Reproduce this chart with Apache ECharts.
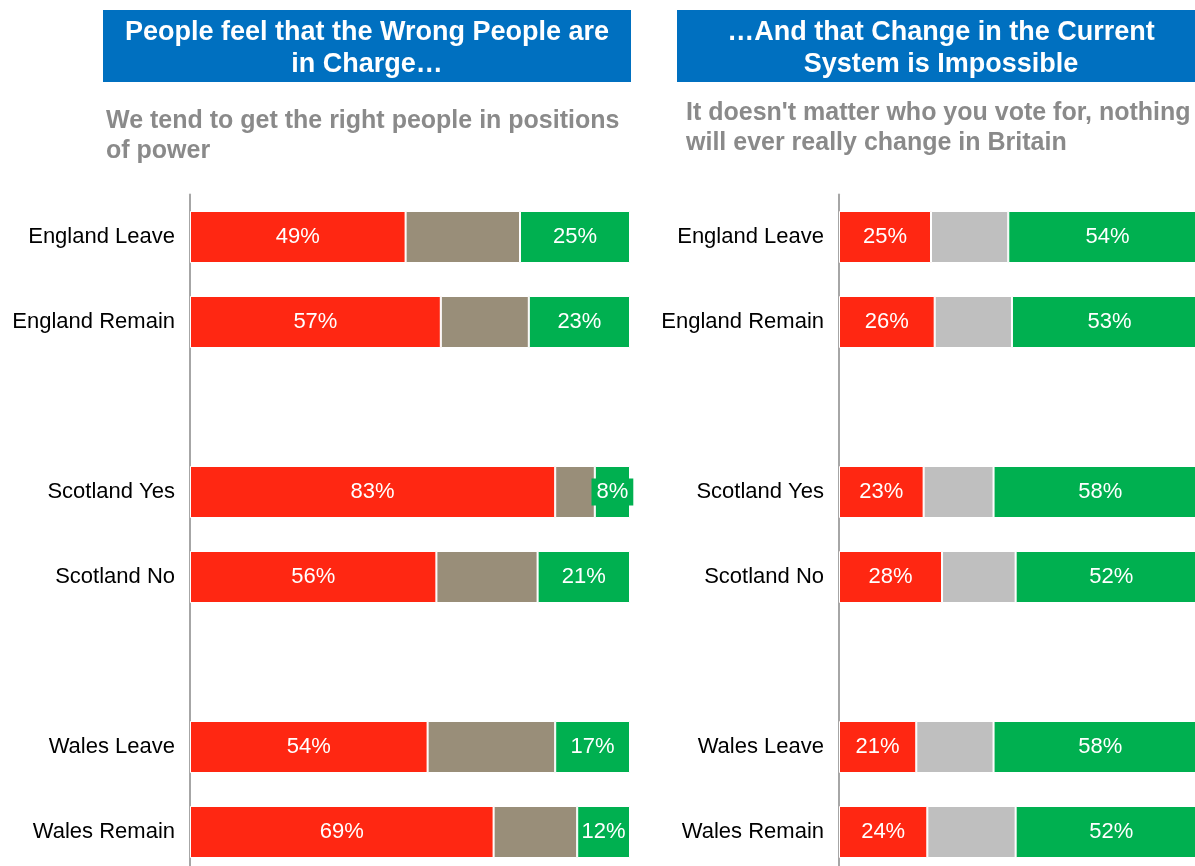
<!DOCTYPE html>
<html>
<head>
<meta charset="utf-8">
<title>Wrong people in charge / change impossible</title>
<script src="https://cdn.jsdelivr.net/npm/echarts@6/dist/echarts.min.js"></script>
<style>
  html, body { margin: 0; padding: 0; background: #fff; }
  #chart { width: 1195px; height: 866px; }
</style>
</head>
<body>
<div id="chart"></div>
<script>
// categories (blank entries are the spacer rows between groups)
const categories = ['England Leave', 'England Remain', '', 'Scotland Yes', 'Scotland No', '', 'Wales Leave', 'Wales Remain']

// left panel: "We tend to get the right people in positions of power"
const leftDisagree = [49, 57, null, 83, 56, null, 54, 69]
const leftNeither = [26, 20, null, 9, 23, null, 29, 19]
const leftAgree = [25, 23, null, 8, 21, null, 17, 12]

// right panel: "It doesn't matter who you vote for..."
const rightDisagree = [25, 26, null, 23, 28, null, 21, 24]
const rightNeither = [21, 21, null, 19, 20, null, 21, 24]
const rightAgree = [54, 53, null, 58, 52, null, 58, 52]

const titleLeft = 'People feel that the Wrong People are\nin Charge…'
const titleRight = '…And that Change in the Current\nSystem is Impossible'
const subLeft = 'We tend to get the right people in positions\nof power'
const subRight = 'It doesn\'t matter who you vote for, nothing\nwill ever really change in Britain'

const RED = '#FF2712'
const GREEN = '#00B050'
const BLUE = '#0070C0'
const FONT = '"Liberation Sans", Arial, sans-serif'

const chart = echarts.init(document.getElementById('chart'))

function valueLabel(show) {
  return {
    show: show,
    position: 'inside',
    color: '#fff',
    fontSize: 22,
    fontFamily: FONT,
    formatter: p => p.value + '%'
  }
}

// small green segments get a filled label box so the text stays readable
function greenData(arr) {
  return arr.map(v => (v !== null && v < 10)
    ? { value: v, label: { backgroundColor: GREEN, padding: [3, 5, 2, 5], lineHeight: 22 } }
    : v)
}

function stack(idx, red, mid, midColor, green) {
  const base = {
    type: 'bar',
    stack: 'total' + idx,
    xAxisIndex: idx,
    yAxisIndex: idx,
    barWidth: 52,
    itemStyle: { borderColor: '#fff', borderWidth: 1 }
  }
  return [
    Object.assign({}, base, { name: 'disagree' + idx, data: red, itemStyle: Object.assign({}, base.itemStyle, { color: RED }), label: valueLabel(true) }),
    Object.assign({}, base, { name: 'neither' + idx, data: mid, itemStyle: Object.assign({}, base.itemStyle, { color: midColor }), label: valueLabel(false) }),
    Object.assign({}, base, { name: 'agree' + idx, data: greenData(green), itemStyle: Object.assign({}, base.itemStyle, { color: GREEN }), label: valueLabel(true) })
  ]
}

function yAxis(idx) {
  return {
    type: 'category',
    gridIndex: idx,
    inverse: true,
    data: categories,
    axisLine: { show: true, lineStyle: { color: '#A6A6A6', width: 2 } },
    axisTick: { show: false },
    axisLabel: { color: '#000', fontSize: 22, fontFamily: FONT, margin: 15 }
  }
}

function xAxis(idx) {
  return { type: 'value', gridIndex: idx, min: 0, max: 100, show: false }
}

const option = {
  animation: false,
  grid: [
    { left: 190, top: 194.5, width: 440, height: 680, outerBoundsMode: 'none', containLabel: false },
    { left: 839, top: 194.5, width: 368, height: 680, outerBoundsMode: 'none', containLabel: false }
  ],
  xAxis: [xAxis(0), xAxis(1)],
  yAxis: [yAxis(0), yAxis(1)],
  series: [
    ...stack(0, leftDisagree, leftNeither, '#998E79', leftAgree),
    ...stack(1, rightDisagree, rightNeither, '#BFBFBF', rightAgree)
  ],
  graphic: [
    { type: 'rect', shape: { x: 103, y: 10, width: 528, height: 72 }, style: { fill: BLUE } },
    { type: 'rect', shape: { x: 677, y: 10, width: 528, height: 72 }, style: { fill: BLUE } },
    {
      type: 'text', x: 367, y: 49,
      style: { text: titleLeft, fill: '#fff', font: 'bold 27px ' + FONT, align: 'center', verticalAlign: 'middle', lineHeight: 32 }
    },
    {
      type: 'text', x: 941, y: 49,
      style: { text: titleRight, fill: '#fff', font: 'bold 27px ' + FONT, align: 'center', verticalAlign: 'middle', lineHeight: 32 }
    },
    {
      type: 'text', x: 106, y: 136,
      style: { text: subLeft, fill: '#8A8A8A', font: 'bold 25px ' + FONT, align: 'left', verticalAlign: 'middle', lineHeight: 30 }
    },
    {
      type: 'text', x: 686, y: 128,
      style: { text: subRight, fill: '#8A8A8A', font: 'bold 25px ' + FONT, align: 'left', verticalAlign: 'middle', lineHeight: 30 }
    }
  ]
}

chart.setOption(option)
</script>
</body>
</html>
